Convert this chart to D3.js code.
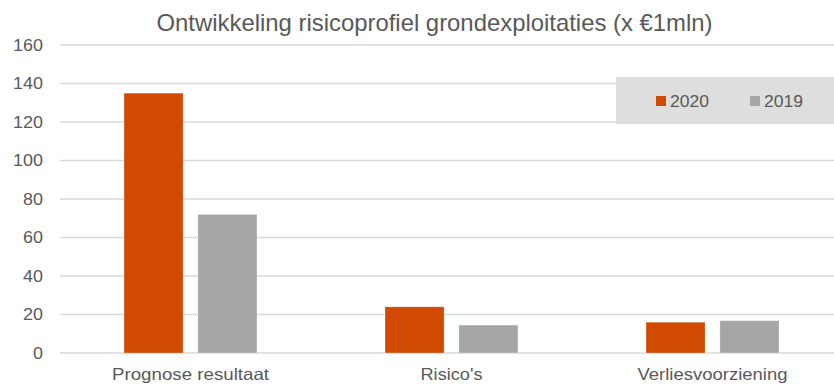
<!DOCTYPE html>
<html><head><meta charset="utf-8">
<script src="https://cdn.jsdelivr.net/npm/d3@7"></script>
<style>body{margin:0;background:#fff}svg{display:block}text{font-family:"Liberation Sans",Arial,sans-serif}</style>
</head><body><svg id="c" width="834" height="384"></svg>
<script>
const title = "Ontwikkeling risicoprofiel grondexploitaties (x €1mln)";
const categories = ["Prognose resultaat", "Risico's", "Verliesvoorziening"];
const seriesNames = ["2020", "2019"];
const values2020 = [135, 24, 16];
const values2019 = [72, 14.5, 16.8];
const yTicks = [0, 20, 40, 60, 80, 100, 120, 140, 160];
const colors = ["#d04a02", "#a6a6a6"];

const svg = d3.select("#c");
const W = 834, H = 384;
const FONT = "'Liberation Sans',Arial,sans-serif";
function fitWidth(sel, fn) {
  sel.attr("textLength", fn).attr("lengthAdjust", "spacingAndGlyphs");
}
function stretch(sel, k) {
  sel.each(function () {
    const n = this.getComputedTextLength();
    d3.select(this).attr("textLength", n * k).attr("lengthAdjust", "spacingAndGlyphs");
  });
}

const x0 = d3.scaleBand().domain(categories).range([60, 843]).padding(0);
const x1 = d3.scaleBand().domain(seriesNames).range([64, 197]).paddingInner(0.2);
const y = d3.scaleLinear().domain([0, 160]).range([353, 45]);

// gridlines
svg.append("g").selectAll("line").data(yTicks).join("line")
  .attr("x1", 60).attr("x2", W)
  .attr("y1", d => y(d)).attr("y2", d => y(d))
  .attr("stroke", "#d9d9d9").attr("stroke-width", 1.6);

// y axis labels
const yAxis = d3.axisLeft(y).tickValues(yTicks).tickSize(0).tickPadding(0);
const ga = svg.append("g").attr("transform", "translate(43,0)").call(yAxis);
ga.select(".domain").remove();
ga.attr("font-family", FONT).attr("font-size", 16);
ga.selectAll("text").attr("fill", "#595959").call(stretch, 1.12);

// bars
const data = categories.map((c, i) => ({ c, vals: [values2020[i], values2019[i]] }));
const g = svg.append("g");
data.forEach(d => {
  g.selectAll(null).data(d.vals.map((v, j) => ({ s: seriesNames[j], v, j }))).join("rect")
    .attr("x", e => x0(d.c) + x1(e.s))
    .attr("width", x1.bandwidth())
    .attr("y", e => y(e.v))
    .attr("height", e => y(0) - y(e.v))
    .attr("fill", e => colors[e.j])
    .attr("stroke", "#ffffff").attr("stroke-opacity", 0.4).attr("stroke-width", 0.75);
});

// x labels
const catWidths = [157, 62, 150];
const xAxis = d3.axisBottom(x0).tickSize(0).tickPadding(0);
const gx = svg.append("g").attr("transform", "translate(0,380)").call(xAxis);
gx.select(".domain").remove();
gx.attr("font-family", FONT).attr("font-size", 16.5);
gx.selectAll("text").attr("fill", "#595959").attr("dy", 0)
  .call(fitWidth, (d, i) => catWidths[i]);

// title
svg.append("text").attr("x", 434.5).attr("y", 31).attr("text-anchor", "middle")
  .attr("fill", "#595959").style("font-size", "24px").text(title)
  .call(fitWidth, 556);

// legend
const lg = svg.append("g");
lg.append("rect").attr("x", 616).attr("y", 77).attr("width", W - 616).attr("height", 47).attr("fill", "#dedede");
const legX = [656, 750];
seriesNames.forEach((s, j) => {
  lg.append("rect").attr("x", legX[j]).attr("y", 96).attr("width", 10).attr("height", 10).attr("fill", colors[j]);
  lg.append("text").attr("x", legX[j] + 14).attr("y", 107.3).attr("fill", "#595959").style("font-size", "17px").text(s)
    .call(fitWidth, 39);
});
</script></body></html>
